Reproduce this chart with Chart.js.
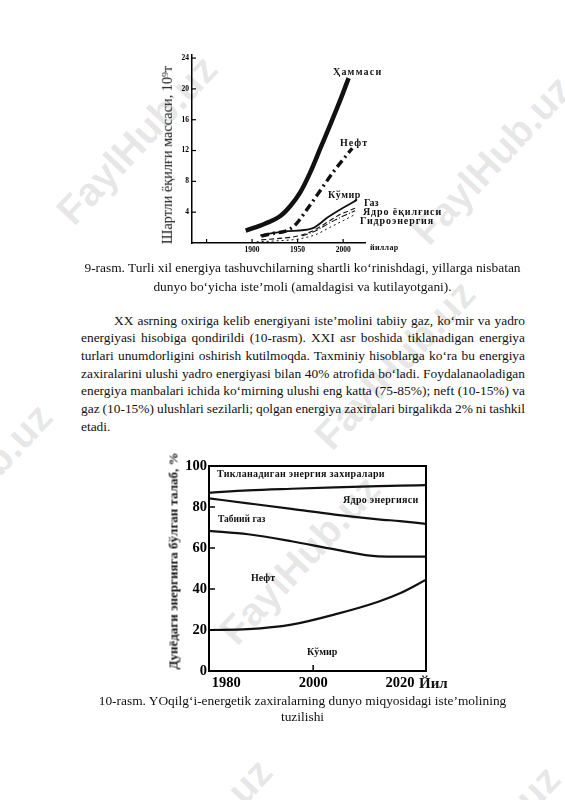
<!DOCTYPE html>
<html>
<head>
<meta charset="utf-8">
<title>9-rasm, 10-rasm</title>
<script src="https://cdn.jsdelivr.net/npm/chart.js"></script>
<style>
    body {
        margin: 0;
        background: #fff;
    }
    #page {
        position: relative;
        width: 565px;
        height: 800px;
        overflow: hidden;
        background: #fff;
        font-family: "Liberation Serif", "Times New Roman", serif;
        color: #111;
    }
    .wm {
        position: absolute;
        font: bold 40px "Liberation Sans", Arial, sans-serif;
        color: rgba(0, 0, 0, 0.10);
        white-space: nowrap;
        transform: translate(-50%, -50%) rotate(-47deg);
    }
    canvas {
        position: absolute;
    }
    .lbl {
        position: absolute;
        font-weight: bold;
        white-space: nowrap;
        line-height: 1;
        transform: translateY(-50%);
    }
    .ytitle {
        position: absolute;
        white-space: nowrap;
        line-height: 1;
        transform: translate(-50%, -50%) rotate(-90deg);
    }
    .txt {
        position: absolute;
        font-size: 13.4px;
        line-height: 18px;
        white-space: nowrap;
    }
    .cap {
        left: 40px;
        width: 525px;
        text-align: center;
    }
</style>
</head>
<body>
<div id="page">
    <div class="wm" style="left:137px; top:140px;">FaylHub.uz</div>
    <div class="wm" style="left:492px; top:160px;">FaylHub.uz</div>
    <div class="wm" style="left:395px; top:365px;">FaylHub.uz</div>
    <div class="wm" style="left:300px; top:560px;">FaylHub.uz</div>
    <div class="wm" style="left:-28px; top:488px;">FaylHub.uz</div>
    <div class="wm" style="left:192px; top:843px;">FaylHub.uz</div>
    <div class="wm" style="left:480px; top:850px;">FaylHub.uz</div>

    <canvas id="chart1" width="300" height="225" style="left:150px; top:40px;"></canvas>
    <div class="ytitle" style="left:167px; top:155px; font-size:14.3px;">Шартли ёқилғи массаси, 10⁹т</div>
    <div class="lbl" style="left:333px; top:72px; font-size:10px; letter-spacing:1.2px;">Ҳаммаси</div>
    <div class="lbl" style="left:340px; top:143px; font-size:10px; letter-spacing:1px;">Нефт</div>
    <div class="lbl" style="left:328px; top:195px; font-size:10px; letter-spacing:0.5px;">Кўмир</div>
    <div class="lbl" style="left:364px; top:203px; font-size:10px;">Газ</div>
    <div class="lbl" style="left:363px; top:211.5px; font-size:10px; letter-spacing:0.9px;">Ядро ёқилғиси</div>
    <div class="lbl" style="left:360px; top:221px; font-size:10px; letter-spacing:0.9px;">Гидроэнергия</div>
    <div class="lbl" style="left:370px; top:248px; font-size:8px; letter-spacing:0.3px;">йиллар</div>

    <div class="txt cap" style="top:259px;">9-rasm. Turli xil energiya tashuvchilarning shartli ko‘rinishdagi, yillarga nisbatan</div>
    <div class="txt cap" style="top:278px;">dunyo bo‘yicha iste’moli (amaldagisi va kutilayotgani).</div>

    <div class="txt just" style="top:312px; left:114px; width:411px;"><span>XX asrning oxiriga kelib energiyani iste’molini tabiiy gaz, ko‘mir va yadro</span></div>
    <div class="txt just" style="top:329px; left:81px; width:444px;"><span>energiyasi hisobiga qondirildi (10-rasm). XXI asr boshida tiklanadigan energiya</span></div>
    <div class="txt just" style="top:347px; left:81px; width:444px;"><span>turlari unumdorligini oshirish kutilmoqda. Taxminiy hisoblarga ko‘ra bu energiya</span></div>
    <div class="txt just" style="top:365px; left:81px; width:444px;"><span>zaxiralarini ulushi yadro energiyasi bilan 40% atrofida bo‘ladi. Foydalanaoladigan</span></div>
    <div class="txt just" style="top:382px; left:81px; width:444px;"><span>energiya manbalari ichida ko‘mirning ulushi eng katta (75-85%); neft (10-15%) va</span></div>
    <div class="txt just" style="top:400px; left:81px; width:444px;"><span>gaz (10-15%) ulushlari sezilarli; qolgan energiya zaxiralari birgalikda 2% ni tashkil</span></div>
    <div class="txt" style="top:418px; left:81px;">etadi.</div>

    <canvas id="chart2" width="300" height="250" style="left:150px; top:450px;"></canvas>
    <div class="ytitle" style="left:173px; top:561px; font-size:13px; font-weight:bold;">Дунёдаги энергияга бўлган талаб, %</div>
    <div class="lbl" style="left:217px; top:474px; font-size:10px; letter-spacing:0.3px;">Тикланадиган энергия захиралари</div>
    <div class="lbl" style="left:343px; top:500px; font-size:10px; letter-spacing:0.3px;">Ядро энергияси</div>
    <div class="lbl" style="left:218px; top:520px; font-size:9.5px;">Табиий газ</div>
    <div class="lbl" style="left:251px; top:578px; font-size:10px;">Нефт</div>
    <div class="lbl" style="left:307px; top:652px; font-size:10px;">Кўмир</div>
    <div class="lbl" style="left:419px; top:683px; font-size:15px;">Йил</div>

    <div class="txt cap" style="top:692px;">10-rasm. YOqilg‘i-energetik zaxiralarning dunyo miqyosidagi iste’molining</div>
    <div class="txt cap" style="top:708px;">tuzilishi</div>
</div>

<script>
    // 9-rasm: conventional fuel mass, 10^9 t
    const totalYears = [1893, 1914, 1931, 1942, 1953, 1964, 1975, 1986, 1997, 2006];
    const totalMass = [1.6, 2.5, 3.5, 4.8, 6.6, 9.2, 12.3, 15.4, 18.6, 21.4];
    const oilYears = [1910, 1925, 1936, 1947, 1960, 1973, 1991, 2010];
    const oilMass = [0.9, 1.3, 1.5, 2.3, 4.3, 6.5, 9.5, 12.3];
    const coalYears = [1909, 1936, 1966, 1984, 2002, 2015];
    const coalMass = [1.0, 1.5, 1.9, 3.4, 4.7, 5.6];
    const gasYears = [1910, 1930, 1950, 1965, 1980, 1995, 2013];
    const gasMass = [0.4, 0.6, 0.9, 1.5, 2.5, 3.6, 4.5];
    const nuclearYears = [1955, 1970, 1985, 2000, 2013];
    const nuclearMass = [0.9, 1.6, 2.6, 3.5, 4.2];
    const hydroYears = [1905, 1930, 1950, 1970, 1985, 2000, 2013];
    const hydroMass = [0.15, 0.3, 0.5, 1.1, 2.0, 2.9, 3.7];
    const massTicks = [4, 8, 12, 16, 20, 24];
    const yearTicks1 = [1850, 1900, 1950, 2000];

    // 10-rasm: share of world energy demand, % (upper edge of each band)
    const years2 = [1976, 1985, 1995, 2005, 2015, 2020, 2026];
    const nuclearTop = [87.0, 88.1, 88.9, 89.6, 90.2, 90.4, 90.7];
    const gasTop = [84.2, 81.8, 79.1, 76.3, 74.0, 73.1, 71.8];
    const oilTop = [68.4, 66.7, 63.3, 59.3, 55.9, 55.8, 55.8];
    const coalTop = [20.0, 20.4, 22.6, 27.6, 33.8, 37.9, 44.5];
    const shareTicks = [0, 20, 40, 60, 80, 100];
    const yearTicks2 = [1980, 2000, 2020];

    function pts(xs, ys) {
        return xs.map((x, i) => ({ x: x, y: ys[i] }));
    }

    // tick marks pointing into the plot, plus optional closed frame
    const innerTicks = {
        id: 'innerTicks',
        afterDatasetsDraw(chart, args, opts) {
            const { ctx, chartArea: a, scales } = chart;
            ctx.save();
            ctx.strokeStyle = '#000';
            ctx.lineWidth = opts.width;
            opts.x.forEach(v => {
                const px = scales.x.getPixelForValue(v);
                ctx.beginPath();
                ctx.moveTo(px, a.bottom);
                ctx.lineTo(px, a.bottom - opts.len);
                ctx.stroke();
            });
            opts.y.forEach(v => {
                const py = scales.y.getPixelForValue(v);
                ctx.beginPath();
                ctx.moveTo(a.left, py);
                ctx.lineTo(a.left + opts.len, py);
                ctx.stroke();
            });
            if (opts.frame) {
                ctx.lineWidth = opts.frame;
                ctx.strokeRect(a.left, a.top, a.right - a.left, a.bottom - a.top);
            }
            ctx.restore();
        }
    };

    function line(data, width, dash) {
        return {
            data: data,
            borderColor: '#111',
            borderWidth: width,
            borderDash: dash || [],
            pointRadius: 0,
            fill: false,
            cubicInterpolationMode: 'monotone'
        };
    }

    function axis(min, max, tickList, size, pad, fitKey, fitVal, fontSize) {
        return {
            type: 'linear',
            min: min,
            max: max,
            afterBuildTicks: s => { s.ticks = tickList.map(v => ({ value: v })); },
            afterFit: s => { s[fitKey] = fitVal; },
            grid: { drawOnChartArea: false, drawTicks: false },
            border: { display: true, color: '#000', width: size },
            ticks: {
                padding: pad,
                color: '#000',
                autoSkip: false,
                maxRotation: 0,
                font: { family: 'Liberation Serif', size: fontSize, weight: 'bold' },
                callback: v => String(v)
            }
        };
    }

    // 9-rasm
    const x1 = axis(1834, 2024, yearTicks1, 1.5, 3, 'height', 22, 7.5);
    x1.ticks.callback = v => (v === 1850 ? '' : String(v));
    new Chart(document.getElementById('chart1'), {
        type: 'line',
        data: {
            datasets: [
                line(pts(totalYears, totalMass), 4.5),
                line(pts(oilYears, oilMass), 3.4, [8, 4, 2, 4]),
                line(pts(coalYears, coalMass), 1.8),
                line(pts(gasYears, gasMass), 1.1, [5, 3]),
                line(pts(nuclearYears, nuclearMass), 1.1, [6, 2, 1, 2]),
                line(pts(hydroYears, hydroMass), 1, [2, 3])
            ]
        },
        options: {
            responsive: false,
            animation: false,
            layout: { padding: { left: 0, top: 15, right: 85, bottom: 0 } },
            scales: {
                x: x1,
                y: axis(0, 24.4, massTicks, 1.5, 3, 'width', 42, 7.5)
            },
            plugins: {
                legend: { display: false },
                tooltip: { enabled: false },
                innerTicks: { x: yearTicks1, y: massTicks, len: 4, width: 1.2 }
            }
        },
        plugins: [innerTicks]
    });

    // 10-rasm
    const x2 = axis(1976, 2026, yearTicks2, 2, 4, 'height', 29, 14.5);
    new Chart(document.getElementById('chart2'), {
        type: 'line',
        data: {
            datasets: [
                line(pts(years2, nuclearTop), 2.2),
                line(pts(years2, gasTop), 2.2),
                line(pts(years2, oilTop), 2.2),
                line(pts(years2, coalTop), 2.2)
            ]
        },
        options: {
            responsive: false,
            animation: false,
            layout: { padding: { left: 0, top: 16, right: 24, bottom: 0 } },
            scales: {
                x: x2,
                y: axis(0, 100, shareTicks, 2, 2, 'width', 59, 14.5)
            },
            plugins: {
                legend: { display: false },
                tooltip: { enabled: false },
                innerTicks: { x: [2000], y: [20, 40, 60, 80], len: 6, width: 1.5, frame: 2 }
            }
        },
        plugins: [innerTicks]
    });

    // justify the paragraph lines to the page column
    document.querySelectorAll('.just').forEach(el => {
        const span = el.querySelector('span');
        const natural = span.getBoundingClientRect().width;
        const spaces = (span.textContent.match(/ /g) || []).length;
        el.style.wordSpacing = ((el.clientWidth - natural) / spaces) + 'px';
    });
</script>
</body>
</html>
